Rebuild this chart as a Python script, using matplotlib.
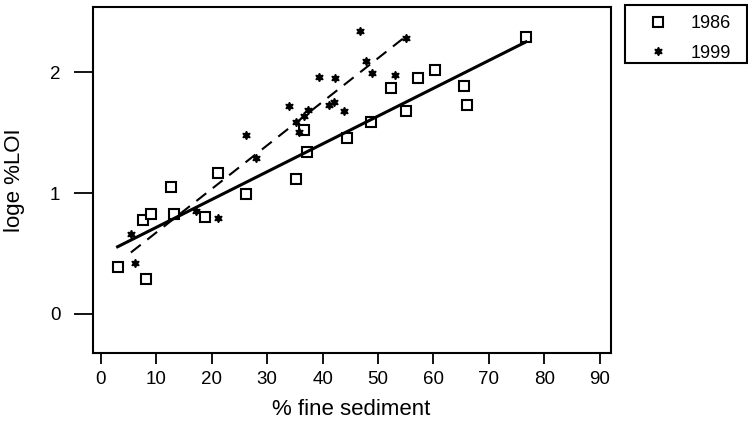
import matplotlib
matplotlib.use("Agg")
import matplotlib.pyplot as plt
from matplotlib.patches import Rectangle
import numpy as np

plt.rcParams['font.family'] = ['Liberation Sans', 'DejaVu Sans']

# 1986 samples
x86 = [3.0, 7.5, 9.0, 8.1, 12.6, 13.1, 18.8, 21.2, 26.2, 35.2, 37.1, 36.7,
       44.4, 48.8, 52.3, 55.1, 57.2, 60.3, 65.5, 66.1, 76.7]
y86 = [0.39, 0.78, 0.825, 0.29, 1.05, 0.83, 0.80, 1.17, 0.99, 1.12, 1.34, 1.525,
       1.46, 1.59, 1.87, 1.68, 1.95, 2.02, 1.89, 1.73, 2.29]
# 1999 samples
x99 = [5.4, 6.2, 17.2, 21.2, 26.1, 28.0, 33.9, 35.2, 35.8, 36.7, 37.3, 39.3,
       41.2, 42.1, 42.3, 43.8, 46.8, 47.8, 48.9, 53.1, 55.0]
y99 = [0.66, 0.42, 0.85, 0.79, 1.48, 1.29, 1.72, 1.59, 1.505, 1.64, 1.69, 1.96,
       1.73, 1.75, 1.95, 1.68, 2.34, 2.09, 1.99, 1.98, 2.28]

xticks = list(range(0, 100, 10))
yticks = [0, 1, 2]

fig = plt.figure(figsize=(7.48, 4.23), dpi=100)
ax = fig.add_axes([93/748, 1-353/423, (611-93)/748, (353-7)/423])

ax.plot(x86, y86, 's', ms=6.5, mfc='white', mec='black', mew=1.5, label='1986')
ax.plot(x99, y99, marker=(6, 1, 0), ls='none', ms=6, color='black', label='1999')

# least squares lines over each year's range
b86 = np.polyfit(x86, y86, 1)
xs = np.array([min(x86), max(x86)])
ax.plot(xs, np.polyval(b86, xs), '-', color='black', lw=2.2)
b99 = np.polyfit(x99, y99, 1)
xs = np.array([min(x99), max(x99)])
ax.plot(xs, np.polyval(b99, xs), '--', color='black', lw=1.5, dashes=(6, 4))

ax.set_xlim(-1.44, 92.06)
ax.set_ylim(-0.323, 2.54)
ax.set_xticks(xticks)
ax.set_yticks(yticks)
ax.tick_params(axis='x', direction='out', length=8, width=1.3, pad=5, labelsize=13.5)
ax.tick_params(axis='y', direction='out', length=13.5, width=1.3, pad=10, labelsize=13.5)
for s in ax.spines.values():
    s.set_linewidth(1.5)

ax.set_xlabel('% fine sediment', fontsize=16, va='center')
ax.xaxis.set_label_coords(0.498, -0.162)
ax.set_ylabel('loge %LOI', fontsize=16, va='center')
ax.yaxis.set_label_coords(-0.1506, 0.5)

leg = fig.legend(loc='upper left', bbox_to_anchor=(625/748, 1-5/423), frameon=False,
                 fontsize=13, borderpad=0.05, labelspacing=0.7,
                 handlelength=2.6, handletextpad=0.5)
fig.patches.append(Rectangle((625/748, 1-63/423), 122/748, 58/423,
                             transform=fig.transFigure, fill=False,
                             edgecolor='black', lw=1.5))

fig.savefig('out.png', dpi=100)
